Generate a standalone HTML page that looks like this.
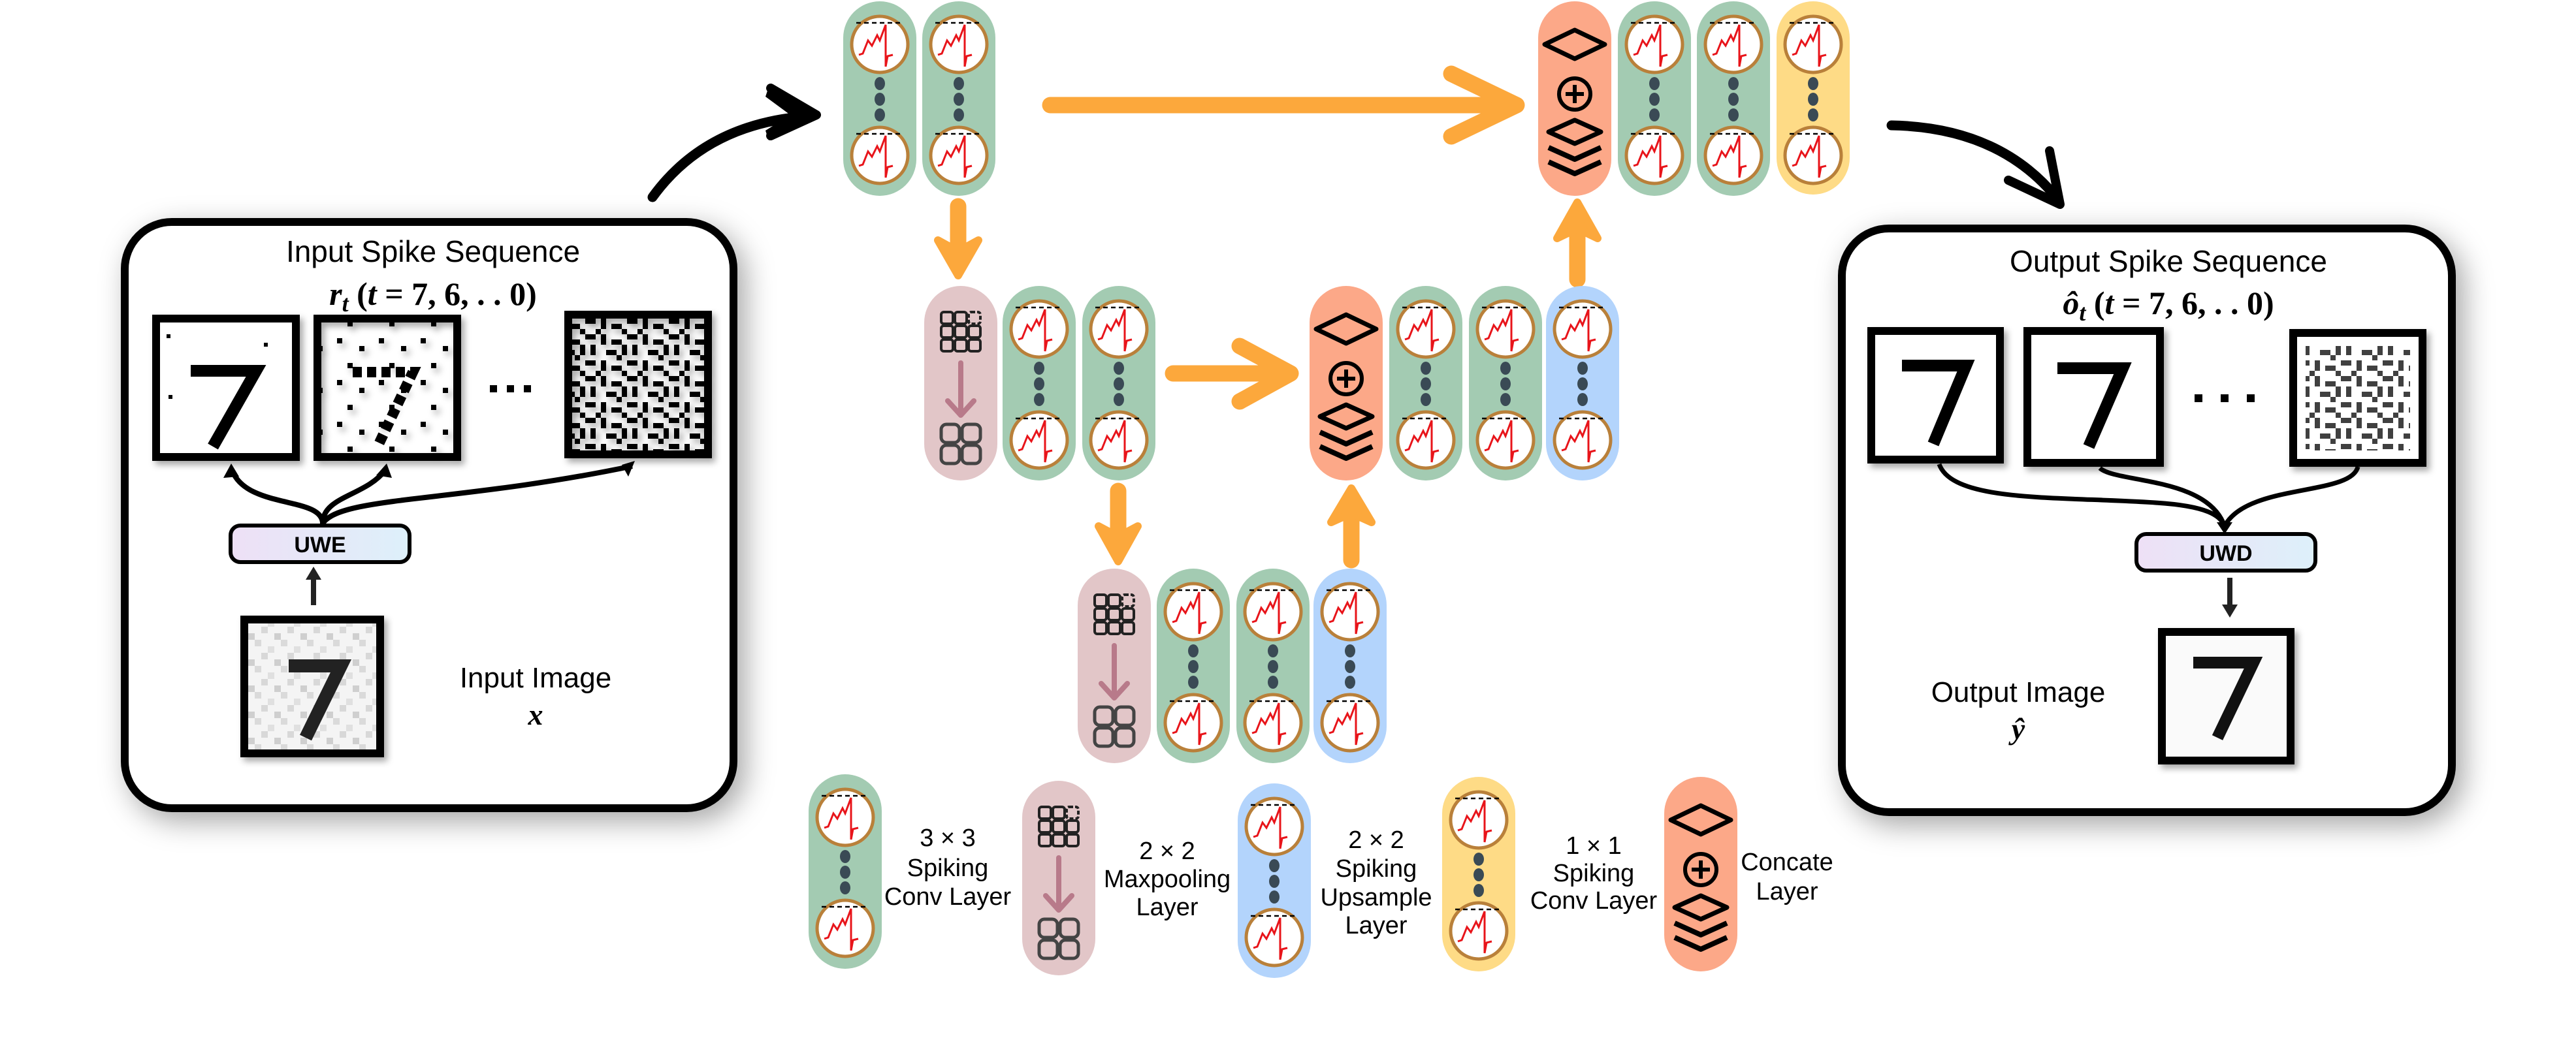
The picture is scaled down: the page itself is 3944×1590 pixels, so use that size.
<!DOCTYPE html>
<html><head><meta charset="utf-8"><style>
html,body{margin:0;padding:0;background:#fff;}
svg{display:block;}
text{font-family:"Liberation Sans",sans-serif;}
.m{font-family:"Liberation Serif",serif;font-weight:bold;}
</style></head><body>
<svg width="3944" height="1590" viewBox="0 0 3944 1590" xmlns="http://www.w3.org/2000/svg">
<defs>
<filter id="sh" x="-10%" y="-10%" width="125%" height="125%"><feDropShadow dx="12" dy="14" stdDeviation="22" flood-color="#000" flood-opacity="0.35"/></filter>
<filter id="sh2" x="-10%" y="-10%" width="130%" height="130%"><feDropShadow dx="5" dy="6" stdDeviation="5" flood-color="#000" flood-opacity="0.35"/></filter>
<linearGradient id="ug" x1="0" x2="1"><stop offset="0" stop-color="#eee0f6"/><stop offset="1" stop-color="#ddf0fa"/></linearGradient>
<pattern id="n1" width="64" height="64" patternUnits="userSpaceOnUse">
<rect x="4" y="6" width="8" height="8" fill="#000"/><rect x="38" y="18" width="8" height="8" fill="#000"/><rect x="20" y="44" width="8" height="8" fill="#000"/>
</pattern>
<pattern id="n2" width="64" height="64" patternUnits="userSpaceOnUse">
<rect x="0" y="0" width="16" height="8" fill="#000"/><rect x="24" y="0" width="8" height="16" fill="#000"/><rect x="40" y="8" width="16" height="8" fill="#000"/><rect x="8" y="16" width="8" height="16" fill="#000"/><rect x="32" y="24" width="16" height="8" fill="#000"/><rect x="56" y="16" width="8" height="16" fill="#000"/><rect x="0" y="40" width="16" height="8" fill="#000"/><rect x="24" y="40" width="8" height="16" fill="#000"/><rect x="40" y="48" width="16" height="8" fill="#000"/><rect x="16" y="56" width="8" height="8" fill="#000"/><rect x="48" y="32" width="8" height="8" fill="#000"/><rect x="56" y="56" width="8" height="8" fill="#000"/>
</pattern>
<pattern id="n3" width="40" height="40" patternUnits="userSpaceOnUse">
<rect width="40" height="40" fill="#f4f4f4"/><rect x="0" y="0" width="10" height="10" fill="#d8d8d8"/><rect x="20" y="10" width="10" height="10" fill="#cfcfcf"/><rect x="10" y="30" width="10" height="10" fill="#e0e0e0"/><rect x="30" y="20" width="10" height="10" fill="#dadada"/>
</pattern>
<g id="nr">
<circle r="43" fill="#fff" stroke="#b9803a" stroke-width="5"/>
<line x1="-36" y1="-33" x2="36" y2="-33" stroke="#000" stroke-width="2.5" stroke-dasharray="7 5"/>
<path d="M-32 16 L-26 14 L-18 -6 L-12 2 L-4 -14 L0 -6 L9 -30 L9 34 L12 18 L20 16" fill="none" stroke="#e8141a" stroke-width="3"/>
</g>
<g id="nc">
<use href="#nr" x="56" y="66"/><use href="#nr" x="56" y="236"/>
<ellipse cx="56" cy="126" rx="8" ry="10" fill="#3a4a55"/><ellipse cx="56" cy="150" rx="8" ry="10" fill="#3a4a55"/><ellipse cx="56" cy="174" rx="8" ry="10" fill="#3a4a55"/>
</g>
<g id="cc" fill="none" stroke="#000" stroke-linejoin="round">
<polygon points="10,66 56,44 102,66 56,88" stroke-width="7"/>
<circle cx="56" cy="142" r="24" stroke-width="6"/>
<path d="M56 128 V156 M42 142 H70" stroke-width="6"/>
<polygon points="16,200 56,182 96,200 56,218" stroke-width="7"/>
<path d="M16 224 L56 242 L96 224 M16 246 L56 264 L96 246" stroke-width="8"/>
</g>
<g id="mp" fill="none">
<g stroke="#222" stroke-width="4">
<rect x="26" y="40" width="18" height="18" rx="4"/><rect x="47" y="40" width="18" height="18" rx="4"/><rect x="68" y="40" width="18" height="18" rx="4" stroke-dasharray="6 3"/>
<rect x="26" y="61" width="18" height="18" rx="4"/><rect x="47" y="61" width="18" height="18" rx="4"/><rect x="68" y="61" width="18" height="18" rx="4"/>
<rect x="26" y="82" width="18" height="18" rx="4"/><rect x="47" y="82" width="18" height="18" rx="4"/><rect x="68" y="82" width="18" height="18" rx="4"/>
</g>
<path d="M56 118 V196 M36 176 L56 198 L76 176" stroke="#b87a8a" stroke-width="8" stroke-linecap="round" stroke-linejoin="round"/>
<g stroke="#444" stroke-width="5">
<rect x="26" y="212" width="28" height="28" rx="8"/><rect x="58" y="212" width="28" height="28" rx="8"/>
<rect x="26" y="244" width="28" height="28" rx="8"/><rect x="58" y="244" width="28" height="28" rx="8"/>
</g>
</g>
</defs>

<rect width="3944" height="1590" fill="#fff"/>

<!-- Left box -->
<rect x="191" y="340" width="932" height="898" rx="72" fill="#fff" stroke="#000" stroke-width="12" filter="url(#sh)"/>
<text x="663" y="401" font-size="46" text-anchor="middle">Input Spike Sequence</text>
<text x="663" y="467" font-size="50" text-anchor="middle" class="m"><tspan font-style="italic">r</tspan><tspan font-style="italic" font-size="36" dy="10">t</tspan><tspan dy="-10"> (</tspan><tspan font-style="italic">t</tspan> = 7, 6, . . 0)</text>
<g filter="url(#sh2)">
<rect x="239" y="488" width="214" height="212" fill="#fff" stroke="#000" stroke-width="12"/>
<rect x="486" y="488" width="214" height="212" fill="url(#n1)" stroke="#000" stroke-width="12"/>
<rect x="870" y="482" width="214" height="214" fill="url(#n2)" stroke="#000" stroke-width="12"/>
<rect x="374" y="949" width="208" height="205" fill="url(#n3)" stroke="#000" stroke-width="12"/>
</g>
<path d="M292 568 H392 L326 684" fill="none" stroke="#000" stroke-width="18"/>
<rect x="255" y="512" width="6" height="6"/><rect x="404" y="525" width="6" height="6"/><rect x="258" y="605" width="6" height="6"/>
<path d="M540 570 H632 L580 680" fill="none" stroke="#000" stroke-width="16" stroke-dasharray="14 8"/>
<path d="M442 1020 H522 L468 1130" fill="none" stroke="#222" stroke-width="20"/>
<g fill="#000"><rect x="750" y="590" width="11" height="11"/><rect x="776" y="590" width="11" height="11"/><rect x="802" y="590" width="11" height="11"/></g>
<path d="M494 802 C494 760 380 780 356 722 M494 802 C494 760 560 760 590 720 M494 802 C520 760 700 770 968 714" fill="none" stroke="#000" stroke-width="8"/>
<polygon points="354,710 342,732 366,730" fill="#000"/><polygon points="592,710 576,728 600,732" fill="#000"/><polygon points="972,706 952,712 962,730" fill="#000"/>
<rect x="353" y="805" width="274" height="56" rx="15" fill="url(#ug)" stroke="#000" stroke-width="6"/>
<text x="490" y="846" font-size="34" font-weight="bold" text-anchor="middle">UWE</text>
<path d="M480 927 V885" stroke="#222" stroke-width="8"/><polygon points="468,888 480,868 492,888" fill="#222"/>
<text x="820" y="1053" font-size="44" text-anchor="middle">Input Image</text>
<text x="820" y="1110" font-size="46" text-anchor="middle" class="m" font-style="italic">x</text>

<!-- Right box -->
<rect x="2820" y="350" width="934" height="894" rx="72" fill="#fff" stroke="#000" stroke-width="12" filter="url(#sh)"/>
<text x="3320" y="416" font-size="46" text-anchor="middle">Output Spike Sequence</text>
<text x="3320" y="481" font-size="50" text-anchor="middle" class="m"><tspan font-style="italic">ô</tspan><tspan font-style="italic" font-size="36" dy="10">t</tspan><tspan dy="-10"> (</tspan><tspan font-style="italic">t</tspan> = 7, 6, . . 0)</text>
<g filter="url(#sh2)">
<rect x="2865" y="507" width="197" height="197" fill="#fff" stroke="#000" stroke-width="12"/>
<rect x="3104" y="507" width="203" height="202" fill="#fff" stroke="#000" stroke-width="12"/>
<rect x="3511" y="510" width="198" height="199" fill="#fff" stroke="#000" stroke-width="12"/>
<rect x="3310" y="968" width="197" height="197" fill="#fafafa" stroke="#000" stroke-width="12"/>
</g>
<path d="M2912 560 H3010 L2960 680" fill="none" stroke="#000" stroke-width="18"/>
<path d="M3150 564 H3250 L3198 684" fill="none" stroke="#000" stroke-width="18"/>
<rect x="3530" y="530" width="160" height="160" fill="url(#n2)" opacity="0.75"/>
<path d="M3358 1015 H3450 L3395 1130" fill="none" stroke="#111" stroke-width="18"/>
<g fill="#000"><rect x="3360" y="604" width="12" height="12"/><rect x="3400" y="604" width="12" height="12"/><rect x="3440" y="604" width="12" height="12"/></g>
<path d="M2969 711 C2990 770 3150 760 3300 770 C3380 775 3400 790 3406 806 M3215 717 C3240 740 3380 730 3406 806 M3610 715 C3600 760 3440 740 3406 806" fill="none" stroke="#000" stroke-width="7"/>
<polygon points="3394,800 3406,818 3418,800" fill="#000"/>
<rect x="3271" y="818" width="274" height="56" rx="15" fill="url(#ug)" stroke="#000" stroke-width="6"/>
<text x="3408" y="859" font-size="34" font-weight="bold" text-anchor="middle">UWD</text>
<path d="M3414 885 V930" stroke="#222" stroke-width="8"/><polygon points="3402,926 3414,946 3426,926" fill="#222"/>
<text x="3090" y="1075" font-size="44" text-anchor="middle">Output Image</text>
<text x="3090" y="1132" font-size="46" text-anchor="middle" class="m" font-style="italic">ŷ</text>

<!-- black curved arrows -->
<path d="M999 302 Q1080 190 1235 178" fill="none" stroke="#000" stroke-width="15" stroke-linecap="round"/>
<polygon points="1177,133 1254,176 1177,215 1172,200 1210,176 1172,148" fill="#000"/>
<path d="M1180 135 L1250 176 L1180 208" fill="none" stroke="#000" stroke-width="14" stroke-linecap="round" stroke-linejoin="round"/>
<path d="M2896 192 Q3060 195 3148 302" fill="none" stroke="#000" stroke-width="15" stroke-linecap="round"/>
<path d="M3075 276 L3154 313 L3138 231" fill="none" stroke="#000" stroke-width="14" stroke-linecap="round" stroke-linejoin="round"/>

<!-- orange arrows -->
<g stroke="#fca83c" stroke-width="25" stroke-linecap="round" stroke-linejoin="round" fill="none">
<path d="M1608 161 H2320"/><path d="M2222 113 L2322 161 L2222 209"/>
<path d="M1796 572 H1975"/><path d="M1898 530 L1976 572 L1898 615"/>
<path d="M1467 316 V400"/><path d="M2415 428 V340"/><path d="M1712 752 V840"/><path d="M2069 858 V780"/>
</g>
<g fill="#fca83c" stroke="#fca83c" stroke-width="12" stroke-linejoin="round">
<polygon points="1436,368 1467,422 1498,368 1467,385"/>
<polygon points="2384,365 2415,310 2446,365 2415,350"/>
<polygon points="1682,806 1712,860 1742,806 1712,822"/>
<polygon points="2038,800 2069,748 2100,800 2069,786"/>
</g>

<!-- columns -->
<g>
<rect x="1291" y="2" width="112" height="298" rx="56" fill="#a3cbb2"/><use href="#nc" x="1291" y="2"/>
<rect x="1412" y="2" width="112" height="298" rx="56" fill="#a3cbb2"/><use href="#nc" x="1412" y="2"/>
<rect x="2355" y="2" width="112" height="298" rx="56" fill="#fca888"/><use href="#cc" x="2355" y="2"/>
<rect x="2477" y="2" width="112" height="298" rx="56" fill="#a3cbb2"/><use href="#nc" x="2477" y="2"/>
<rect x="2598" y="2" width="112" height="298" rx="56" fill="#a3cbb2"/><use href="#nc" x="2598" y="2"/>
<rect x="2720" y="2" width="112" height="296" rx="56" fill="#fedb86"/><use href="#nc" x="2720" y="2"/>
<rect x="1415" y="438" width="112" height="298" rx="56" fill="#e2c6c8"/><use href="#mp" x="1415" y="438"/>
<rect x="1535" y="438" width="112" height="298" rx="56" fill="#a3cbb2"/><use href="#nc" x="1535" y="438"/>
<rect x="1657" y="438" width="112" height="298" rx="56" fill="#a3cbb2"/><use href="#nc" x="1657" y="438"/>
<rect x="2005" y="438" width="112" height="298" rx="56" fill="#fca888"/><use href="#cc" x="2005" y="438"/>
<rect x="2127" y="438" width="112" height="298" rx="56" fill="#a3cbb2"/><use href="#nc" x="2127" y="438"/>
<rect x="2249" y="438" width="112" height="298" rx="56" fill="#a3cbb2"/><use href="#nc" x="2249" y="438"/>
<rect x="2367" y="438" width="112" height="298" rx="56" fill="#b3d4fc"/><use href="#nc" x="2367" y="438"/>
<rect x="1650" y="871" width="112" height="298" rx="56" fill="#e2c6c8"/><use href="#mp" x="1650" y="871"/>
<rect x="1771" y="871" width="112" height="298" rx="56" fill="#a3cbb2"/><use href="#nc" x="1771" y="871"/>
<rect x="1893" y="871" width="112" height="298" rx="56" fill="#a3cbb2"/><use href="#nc" x="1893" y="871"/>
<rect x="2011" y="871" width="112" height="298" rx="56" fill="#b3d4fc"/><use href="#nc" x="2011" y="871"/>
<rect x="1238" y="1186" width="112" height="298" rx="56" fill="#a3cbb2"/><use href="#nc" x="1238" y="1186"/>
<rect x="1565" y="1196" width="112" height="298" rx="56" fill="#e2c6c8"/><use href="#mp" x="1565" y="1196"/>
<rect x="1895" y="1200" width="112" height="298" rx="56" fill="#b3d4fc"/><use href="#nc" x="1895" y="1200"/>
<rect x="2208" y="1190" width="112" height="298" rx="56" fill="#fedb86"/><use href="#nc" x="2208" y="1190"/>
<rect x="2548" y="1190" width="112" height="298" rx="56" fill="#fca888"/><use href="#cc" x="2548" y="1190"/>
</g>

<g font-size="38" text-anchor="middle">
<text x="1451" y="1296">3 × 3</text><text x="1451" y="1342">Spiking</text><text x="1451" y="1386">Conv Layer</text>
<text x="1787" y="1316">2 × 2</text><text x="1787" y="1359">Maxpooling</text><text x="1787" y="1402">Layer</text>
<text x="2107" y="1299">2 × 2</text><text x="2107" y="1343">Spiking</text><text x="2107" y="1387">Upsample</text><text x="2107" y="1430">Layer</text>
<text x="2440" y="1308">1 × 1</text><text x="2440" y="1350">Spiking</text><text x="2440" y="1392">Conv Layer</text>
<text x="2736" y="1333">Concate</text><text x="2736" y="1378">Layer</text>
</g>
</svg>
</body></html>
